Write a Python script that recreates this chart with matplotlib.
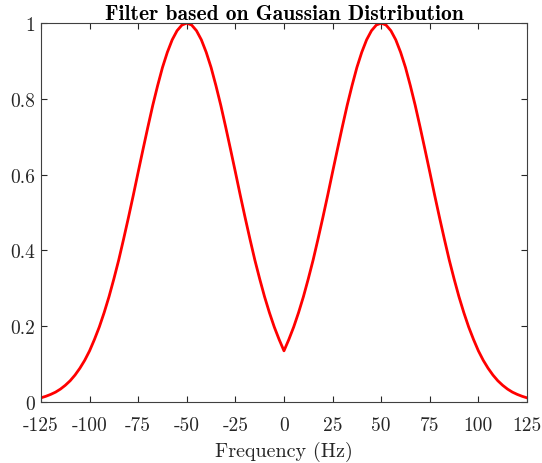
import numpy as np
import matplotlib
matplotlib.use("Agg")
import matplotlib.pyplot as plt

# Filter response, for frequencies 0, 2.5, ..., 125 Hz (symmetric curve)
half_freq = [0, 2.5, 5, 7.5, 10, 12.5, 15, 17.5, 20, 22.5, 25, 27.5, 30, 32.5, 35, 37.5,
             40, 42.5, 45, 47.5, 50, 52.5, 55, 57.5, 60, 62.5, 65, 67.5, 70, 72.5, 75,
             77.5, 80, 82.5, 85, 87.5, 90, 92.5, 95, 97.5, 100, 102.5, 105, 107.5, 110,
             112.5, 115, 117.5, 120, 122.5, 125]
half_resp = [0.135, 0.165, 0.198, 0.236, 0.278, 0.325, 0.375, 0.430, 0.487, 0.546, 0.607,
             0.667, 0.726, 0.783, 0.835, 0.883, 0.923, 0.956, 0.980, 0.995, 1.000, 0.995,
             0.980, 0.956, 0.923, 0.883, 0.835, 0.783, 0.726, 0.667, 0.607, 0.546, 0.487,
             0.430, 0.375, 0.325, 0.278, 0.236, 0.198, 0.165, 0.135, 0.110, 0.089, 0.071,
             0.056, 0.044, 0.034, 0.026, 0.020, 0.015, 0.011]

freq = [-f for f in half_freq[::-1]] + half_freq[1:]
resp = half_resp[::-1] + half_resp[1:]

xticks = [-125, -100, -75, -50, -25, 0, 25, 50, 75, 100, 125]
xtick_labels = ["-125", "-100", "-75", "-50", "-25", "0", "25", "50", "75", "100", "125"]
yticks = [0, 0.2, 0.4, 0.6, 0.8, 1]
ytick_labels = ["0", "0.2", "0.4", "0.6", "0.8", "1"]

fig = plt.figure(figsize=(5.42, 4.64), dpi=100)
ax = fig.add_axes([0.0756, 0.1315, 0.8967, 0.8165])

ax.plot(freq, resp, color="#ff0000", linewidth=2.0)
ax.set_xlim(-125, 125)
ax.set_ylim(0, 1)
ax.set_xticks(xticks)
ax.set_xticklabels(xtick_labels, fontfamily="cmr10", fontsize=14)
ax.set_yticks(yticks)
ax.set_yticklabels(ytick_labels, fontfamily="cmr10", fontsize=14)
ax.tick_params(direction="in", top=True, right=True, length=4, width=0.8,
               colors="#262626")
ax.tick_params(axis="x", pad=10)
ax.tick_params(axis="y", pad=4)
for s in ax.spines.values():
    s.set_color("#404040")
    s.set_linewidth(0.8)

ax.set_xlabel("Frequency (Hz)", fontfamily="cmr10", fontsize=14.5, color="#262626", labelpad=5)
ax.set_title("Filter based on Gaussian Distribution", fontfamily="cmb10", fontsize=15.5,
             color="#000000", pad=3)

fig.savefig("out.png", dpi=100)
